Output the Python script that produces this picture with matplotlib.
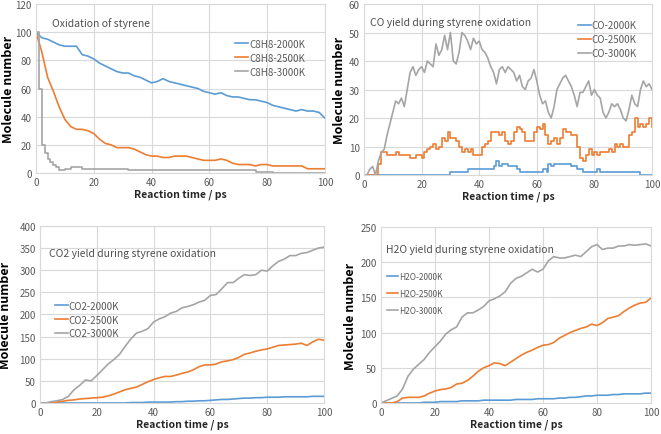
import matplotlib
import matplotlib.pyplot as plt

matplotlib.use('Agg')

plt.rcParams['font.family'] = ['Noto Sans CJK SC', 'DejaVu Sans']

BLUE = '#5B9BD5'
ORANGE = '#ED7D31'
GRAY = '#A5A5A5'

t2 = list(range(0, 101, 2))
t1 = list(range(0, 101))

# C8H8 consumption
c8h8_2000 = [100, 96, 95, 93, 91, 90, 90, 90, 84, 83, 81, 78, 76, 74, 72, 71, 71, 69, 68, 66,
             64, 65, 67, 65, 64, 63, 62, 61, 60, 58, 57, 56, 57, 55, 54, 54, 53, 52, 52, 51,
             50, 48, 47, 46, 45, 44, 45, 44, 44, 43, 39]
c8h8_2500 = [100, 86, 68, 58, 47, 38, 33, 31, 31, 30, 28, 24, 21, 20, 18, 18, 18, 17, 15, 13,
             12, 12, 11, 11, 12, 12, 12, 11, 10, 9, 9, 9, 10, 9, 7, 6, 6, 6, 5, 6,
             6, 5, 5, 5, 5, 5, 5, 3, 3, 3, 3]
t_fast = [0, 1, 2, 3, 4, 5, 6, 7, 8, 10, 12, 14, 16, 20, 24, 28, 30, 32, 36, 40, 50, 60, 70,
          74, 76, 80, 82, 90, 100]
c8h8_3000 = [100, 60, 20, 14, 10, 8, 6, 4, 2, 3, 4, 4, 3, 3, 3, 3, 3, 2, 2, 2, 2, 2, 2,
             2, 1, 1, 0, 0, 0]

# CO yield
co_2000_t = [0, 30, 36, 44, 45, 46, 47, 48, 50, 53, 54, 62, 63.5, 64, 65, 66, 72, 74, 76, 81,
             82, 96, 100]
co_2000 = [0, 1, 2, 2, 3, 5, 3, 4, 3, 2, 1, 2, 1, 4, 3, 4, 3, 2, 1, 2,
           1, 0, 0]
co_2500 = [0, 0, 0, 0, 0, 4, 8, 8, 7, 7, 7, 8, 7, 7, 7, 7, 6, 6, 7, 7,
           6, 8, 9, 10, 11, 9, 10, 13, 12, 15, 13, 13, 12, 10, 8, 9, 8, 9, 7, 7,
           7, 10, 11, 12, 15, 15, 15, 14, 15, 12, 11, 12, 15, 17, 16, 15, 12, 12, 12, 15,
           17, 16, 18, 14, 11, 12, 13, 11, 13, 16, 15, 15, 14, 14, 10, 6, 5, 7, 9, 7,
           8, 7, 8, 8, 8, 9, 8, 11, 10, 11, 10, 10, 14, 15, 20, 17, 18, 17, 18, 20,
           17]
co_3000 = [0, 0, 2, 3, 0, 5, 8, 9, 14, 18, 22, 26, 25, 27, 24, 30, 36, 38, 35, 37,
           38, 36, 40, 39, 38, 46, 42, 44, 49, 44, 50, 40, 39, 43, 50, 49, 47, 44, 48, 46,
           47, 44, 43, 41, 38, 36, 32, 37, 38, 36, 38, 37, 36, 33, 35, 31, 30, 33, 34, 37,
           33, 28, 25, 26, 22, 20, 24, 30, 32, 34, 35, 33, 31, 28, 24, 29, 29, 31, 33, 28,
           30, 28, 27, 22, 20, 22, 25, 24, 25, 23, 20, 19, 23, 28, 25, 24, 30, 33, 31, 32,
           30]

# CO2 yield
co2_2000 = [0, 0, 0, 0, 0, 0, 0, 0, 0, 0, 0, 0, 0, 0, 0, 0, 1, 1, 1, 2,
            2, 2, 2, 2, 3, 3, 4, 4, 5, 5, 6, 7, 8, 8, 9, 10, 11, 11, 12, 12,
            13, 13, 13, 14, 14, 14, 14, 14, 15, 15, 15]
co2_2500 = [0, 0, 0, 2, 4, 6, 7, 9, 10, 11, 12, 13, 16, 20, 25, 30, 33, 36, 42, 48,
            53, 57, 60, 60, 63, 67, 70, 75, 82, 86, 86, 88, 93, 95, 98, 103, 110, 113, 117, 120,
            122, 126, 130, 131, 132, 133, 135, 130, 138, 144, 142]
co2_3000 = [0, 0, 3, 5, 8, 15, 30, 40, 52, 50, 62, 75, 88, 98, 110, 128, 145, 158, 162, 168,
            183, 190, 195, 203, 207, 215, 218, 222, 228, 232, 243, 245, 258, 272, 272, 282, 290, 288, 290, 300,
            298, 310, 320, 325, 333, 333, 338, 340, 345, 350, 352]

# H2O yield
h2o_2000 = [0, 0, 0, 0, 0, 0, 0, 0, 1, 1, 1, 2, 2, 2, 2, 3, 3, 3, 3, 4,
            4, 4, 4, 4, 4, 5, 5, 5, 5, 6, 6, 6, 6, 7, 7, 8, 8, 9, 10, 10,
            11, 11, 11, 12, 12, 13, 13, 13, 13, 14, 14]
h2o_2500 = [0, 0, 0, 2, 7, 8, 8, 8, 10, 14, 17, 19, 20, 22, 27, 28, 32, 38, 45, 50,
            53, 57, 56, 53, 58, 63, 68, 72, 75, 79, 82, 83, 86, 92, 96, 100, 103, 106, 108, 112,
            110, 114, 120, 122, 124, 130, 135, 139, 142, 143, 149]
h2o_3000_t = [0, 3, 6, 8, 10, 12, 14, 16, 18, 20, 22, 24, 26, 28, 30, 32, 34, 36, 38, 40,
              42, 44, 46, 48, 50, 52, 54, 56, 58, 60, 62, 64, 66, 68, 70, 72, 74, 76, 78, 80,
              82, 84, 86, 88, 90, 92, 94, 96, 98, 100]
h2o_3000 = [0, 5, 10, 20, 38, 48, 55, 62, 72, 80, 88, 98, 104, 108, 122, 128, 128, 132, 137, 145,
            148, 152, 158, 170, 177, 180, 185, 190, 186, 190, 202, 208, 206, 206, 208, 210, 208, 215, 222, 225,
            218, 220, 220, 223, 223, 225, 224, 225, 226, 223]

TICK_COLOR = '#595959'
GRID_COLOR = '#D9D9D9'


def style_axes(ax, ymax, ystep, ylab_x):
    ax.set_xlim(0, 100)
    ax.set_ylim(0, ymax)
    ax.set_xticks(range(0, 101, 20))
    ax.set_yticks(range(0, ymax + 1, ystep))
    ax.grid(True, color=GRID_COLOR, linewidth=0.8)
    ax.set_axisbelow(True)
    for sp in ax.spines.values():
        sp.set_color(GRID_COLOR)
        sp.set_linewidth(0.8)
    ax.tick_params(length=0, labelsize=7, colors=TICK_COLOR, pad=3)
    ax.set_xlabel('Reaction time / ps', fontsize=7.5, fontweight='bold', color='#262626', labelpad=1)
    ax.set_ylabel('Molecule number', fontsize=9, fontweight='bold', color='black')
    # label x is the right edge of the rotated text
    ax.yaxis.set_label_coords(ylab_x, 0.5)


def add_legend(ax, anchor, size=7, spacing=0.4):
    leg = ax.legend(loc='upper left', bbox_to_anchor=anchor, frameon=False, fontsize=size,
                    handlelength=1.3, handletextpad=0.1, labelspacing=spacing, borderaxespad=0)
    for txt in leg.get_texts():
        txt.set_color(TICK_COLOR)


def add_title(ax, x, y, text):
    ax.text(x, y, text, transform=ax.transAxes, fontsize=7.5, color='#505050')


fig = plt.figure(figsize=(6.61, 4.35), dpi=100)
lw = 1.2

# panel 1
ax1 = fig.add_axes([0.0545, 0.600, 0.437, 0.3885])
ax1.plot(t2, c8h8_2000, color=BLUE, lw=lw, label='C8H8-2000K')
ax1.plot(t2, c8h8_2500, color=ORANGE, lw=lw, label='C8H8-2500K')
ax1.plot(t_fast, c8h8_3000, color=GRAY, lw=lw, label='C8H8-3000K', drawstyle='steps-post')
style_axes(ax1, 120, 20, -0.072)
add_title(ax1, 0.055, 0.87, 'Oxidation of styrene')
add_legend(ax1, (0.677, 0.817))

# panel 2
ax2 = fig.add_axes([0.5507, 0.5954, 0.4357, 0.393])
ax2.plot(co_2000_t, co_2000, color=BLUE, lw=lw, label='CO-2000K', drawstyle='steps-post')
ax2.plot(t1, co_2500, color=ORANGE, lw=lw, label='CO-2500K', drawstyle='steps-post')
ax2.plot(t1, co_3000, color=GRAY, lw=lw, label='CO-3000K')
style_axes(ax2, 60, 10, -0.064)
add_title(ax2, 0.02, 0.88, 'CO yield during styrene oxidation')
add_legend(ax2, (0.73, 0.927))

# panel 3
ax3 = fig.add_axes([0.0605, 0.0713, 0.4297, 0.407])
ax3.plot(t2, co2_2000, color=BLUE, lw=lw, label='CO2-2000K')
ax3.plot(t2, co2_2500, color=ORANGE, lw=lw, label='CO2-2500K')
ax3.plot(t2, co2_3000, color=GRAY, lw=lw, label='CO2-3000K')
style_axes(ax3, 400, 50, -0.1)
add_title(ax3, 0.03, 0.83, 'CO2 yield during styrene oxidation')
add_legend(ax3, (0.04, 0.60))

# panel 4
ax4 = fig.add_axes([0.5764, 0.0713, 0.4085, 0.4046])
ax4.plot(t2, h2o_2000, color=BLUE, lw=lw, label='H2O-2000K')
ax4.plot(t2, h2o_2500, color=ORANGE, lw=lw, label='H2O-2500K')
ax4.plot(h2o_3000_t, h2o_3000, color=GRAY, lw=lw, label='H2O-3000K')
style_axes(ax4, 250, 50, -0.088)
add_title(ax4, 0.02, 0.86, 'H2O yield during styrene oxidation')
add_legend(ax4, (0.01, 0.765), size=6, spacing=0.95)

fig.savefig('out.png', dpi=100)
